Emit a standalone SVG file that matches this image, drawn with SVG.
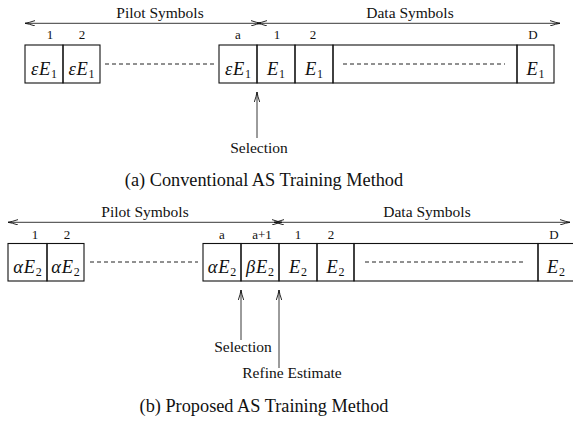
<svg xmlns="http://www.w3.org/2000/svg" width="573" height="424" viewBox="0 0 573 424">
<style>
text{font-family:'Liberation Serif','Times New Roman',serif;fill:#111}
.lbl{font-size:15.5px;text-anchor:middle}
.num{font-size:13px;text-anchor:middle}
.cap{font-size:18.3px;text-anchor:middle}
.m{font-style:italic;font-size:18.5px;text-anchor:middle;letter-spacing:0.8px}
.s{font-style:normal;font-size:12px;letter-spacing:0}
.box{fill:none;stroke:#111;stroke-width:1.1}
.dash{stroke:#222;stroke-width:1;stroke-dasharray:4 3}
.ln{fill:none;stroke:#222;stroke-width:0.9}
</style>
<defs>
<marker id="ah" viewBox="0 0 10 6" refX="10" refY="3" markerWidth="10" markerHeight="6" orient="auto-start-reverse" markerUnits="userSpaceOnUse">
<path d="M0,0.3 Q6,2.4 10,3 Q6,3.6 0,5.7" fill="none" stroke="#111" stroke-width="0.9"/>
</marker>
</defs>

<g id="fig-a">
<g id="a-pilot-label"><text class="lbl" x="160" y="18">Pilot Symbols</text></g>
<g id="a-data-label"><text class="lbl" x="410" y="18">Data Symbols</text></g>
<g id="a-nums">
<text class="num" x="50" y="39">1</text>
<text class="num" x="82" y="39">2</text>
<text class="num" x="238" y="39">a</text>
<text class="num" x="277" y="39">1</text>
<text class="num" x="313" y="39">2</text>
<text class="num" x="533" y="39">D</text>
</g>
<g id="a-p1"><rect class="box" x="25" y="45" width="38" height="38"/><text class="m" x="44" y="75">εE<tspan class="s" dy="3">1</tspan></text></g>
<g id="a-p2"><rect class="box" x="63" y="45" width="37" height="38"/><text class="m" x="81.5" y="75">εE<tspan class="s" dy="3">1</tspan></text></g>
<g id="a-pa"><rect class="box" x="219" y="45" width="38" height="38"/><text class="m" x="238" y="75">εE<tspan class="s" dy="3">1</tspan></text></g>
<g id="a-d1"><rect class="box" x="257" y="45" width="38" height="38"/><text class="m" x="276" y="75">E<tspan class="s" dy="3">1</tspan></text></g>
<g id="a-d2"><rect class="box" x="295" y="45" width="38" height="38"/><text class="m" x="314" y="75">E<tspan class="s" dy="3">1</tspan></text></g>
<g id="a-dmid"><rect class="box" x="333" y="45" width="184" height="38"/></g>
<g id="a-dD"><rect class="box" x="517" y="45" width="37" height="38"/><text class="m" x="535.5" y="75">E<tspan class="s" dy="3">1</tspan></text></g>
<g id="a-sel-label"><text class="lbl" x="259" y="153">Selection</text></g>
<g id="a-caption"><text class="cap" x="264" y="186">(a) Conventional AS Training Method</text></g>
</g>

<g id="fig-b">
<g id="b-pilot-label"><text class="lbl" x="145" y="217">Pilot Symbols</text></g>
<g id="b-data-label"><text class="lbl" x="427" y="217">Data Symbols</text></g>
<g id="b-nums">
<text class="num" x="35" y="239">1</text>
<text class="num" x="67" y="239">2</text>
<text class="num" x="222" y="239">a</text>
<text class="num" x="262" y="239">a+1</text>
<text class="num" x="298" y="239">1</text>
<text class="num" x="331" y="239">2</text>
<text class="num" x="554" y="239">D</text>
</g>
<g id="b-p1"><rect class="box" x="8" y="243.5" width="39" height="37.5"/><text class="m" x="27.5" y="273">αE<tspan class="s" dy="3">2</tspan></text></g>
<g id="b-p2"><rect class="box" x="47" y="243.5" width="37" height="37.5"/><text class="m" x="65.5" y="273">αE<tspan class="s" dy="3">2</tspan></text></g>
<g id="b-pa"><rect class="box" x="203" y="243.5" width="38" height="37.5"/><text class="m" x="222" y="273">αE<tspan class="s" dy="3">2</tspan></text></g>
<g id="b-pa1"><rect class="box" x="241" y="243.5" width="38" height="37.5"/><text class="m" x="260" y="273">βE<tspan class="s" dy="3">2</tspan></text></g>
<g id="b-d1"><rect class="box" x="279" y="243.5" width="38" height="37.5"/><text class="m" x="298" y="273">E<tspan class="s" dy="3">2</tspan></text></g>
<g id="b-d2"><rect class="box" x="317" y="243.5" width="37" height="37.5"/><text class="m" x="335.5" y="273">E<tspan class="s" dy="3">2</tspan></text></g>
<g id="b-dmid"><rect class="box" x="354" y="243.5" width="184" height="37.5"/></g>
<g id="b-dD"><rect class="box" x="538" y="243.5" width="40" height="37.5"/><text class="m" x="556" y="273">E<tspan class="s" dy="3">2</tspan></text></g>
<g id="b-sel-label"><text class="lbl" x="243" y="352">Selection</text></g>
<g id="b-ref-label"><text class="lbl" x="292" y="378">Refine Estimate</text></g>
<g id="b-caption"><text class="cap" x="264" y="412">(b) Proposed AS Training Method</text></g>
</g>

<g id="connectors">
<line class="ln" x1="25" y1="23.3" x2="261" y2="23.3" marker-start="url(#ah)" marker-end="url(#ah)"/>
<line class="ln" x1="257" y1="23.3" x2="560" y2="23.3" marker-start="url(#ah)" marker-end="url(#ah)"/>
<line class="dash" x1="105" y1="64" x2="216" y2="64"/>
<line class="dash" x1="343" y1="64" x2="505" y2="64"/>
<line class="ln" x1="257" y1="138" x2="257" y2="92" marker-end="url(#ah)"/>
<line class="ln" x1="8" y1="222.3" x2="282" y2="222.3" marker-start="url(#ah)" marker-end="url(#ah)"/>
<line class="ln" x1="274" y1="222.3" x2="570" y2="222.3" marker-start="url(#ah)" marker-end="url(#ah)"/>
<line class="dash" x1="90" y1="262" x2="198" y2="262"/>
<line class="dash" x1="365" y1="262" x2="526" y2="262"/>
<line class="ln" x1="241" y1="340" x2="241" y2="290" marker-end="url(#ah)"/>
<line class="ln" x1="279" y1="368" x2="279" y2="290" marker-end="url(#ah)"/>
</g>
</svg>
